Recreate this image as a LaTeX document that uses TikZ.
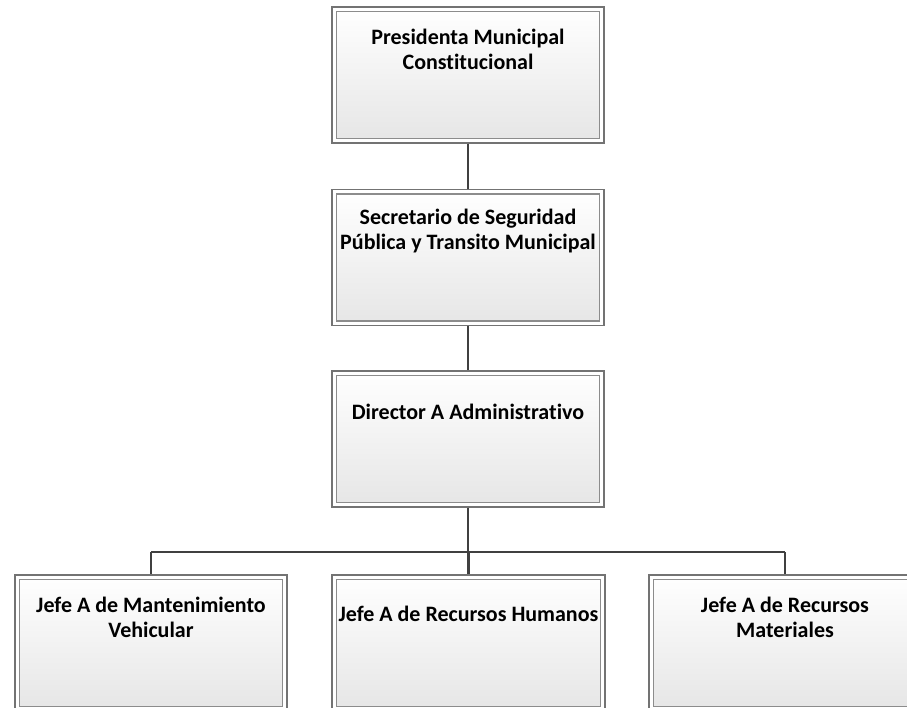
\documentclass[tikz,border=0pt]{standalone}
\usepackage{fontspec}
\setmainfont{Carlito}[Ligatures={NoCommon}]
\definecolor{boxline}{gray}{0.45}
\definecolor{innerline}{gray}{0.55}
\definecolor{shadebot}{gray}{0.9}
\definecolor{connline}{gray}{0.25}
\begin{document}
\begin{tikzpicture}[x=1pt,y=-1pt,
  box/.style={draw=boxline, line width=1.3pt, minimum width=272pt, minimum height=136pt,
    inner sep=0pt, fill=white,
    path picture={\shadedraw[top color=white,bottom color=shadebot,draw=innerline,line width=1.4pt]
      ([xshift=4.5pt,yshift=-4.5pt]path picture bounding box.north west) rectangle
      ([xshift=-4.5pt,yshift=4.5pt]path picture bounding box.south east);}},
  lbl/.style={align=center, font=\bfseries\fontsize{22}{25}\selectfont, inner sep=0pt},
  conn/.style={draw=connline, line width=2.4pt}]
\clip (0,0) rectangle (907,707);
\fill[white] (0,0) rectangle (907,707);
% boxes
\node[box] (p1) at (468,75) {};
\node[box] (p2) at (468,257.5) {};
\node[box] (p3) at (468,439) {};
\node[box] (b1) at (151,643) {};
\node[box, minimum width=273pt] (b2) at (468.5,643) {};
\node[box] (b3) at (785,643) {};
% texts
\node[lbl] (t1) at ([yshift=-43pt]p1.north) {Presidenta Municipal\\Constitucional};
\node[lbl] (t2) at ([yshift=-42pt]p2.north) {Secretario de Seguridad\\Pública y Transito Municipal};
\node[lbl] (t3) at ([yshift=-42pt]p3.north) {Director A Administrativo};
\node[lbl] (t4) at ([yshift=-43pt]b1.north) {Jefe A de Mantenimiento\\Vehicular};
\node[lbl] (t5) at ([yshift=-40pt]b2.north) {Jefe A de Recursos Humanos};
\node[lbl] (t6) at ([yshift=-43pt]b3.north) {Jefe A de Recursos\\Materiales};
% connectors
\coordinate (bus) at (468,552);
\draw[conn] (p1.south) -- (p2.north);
\draw[conn] (p2.south) -- (p3.north);
\draw[conn] (p3.south) -- (bus);
\draw[conn] (bus -| b1.north) -- (bus -| b3.north);
\draw[conn] (bus -| b1.north) -- (b1.north);
\draw[conn] (bus -| b2.north) -- (b2.north);
\draw[conn] (bus -| b3.north) -- (b3.north);
\end{tikzpicture}
\end{document}
